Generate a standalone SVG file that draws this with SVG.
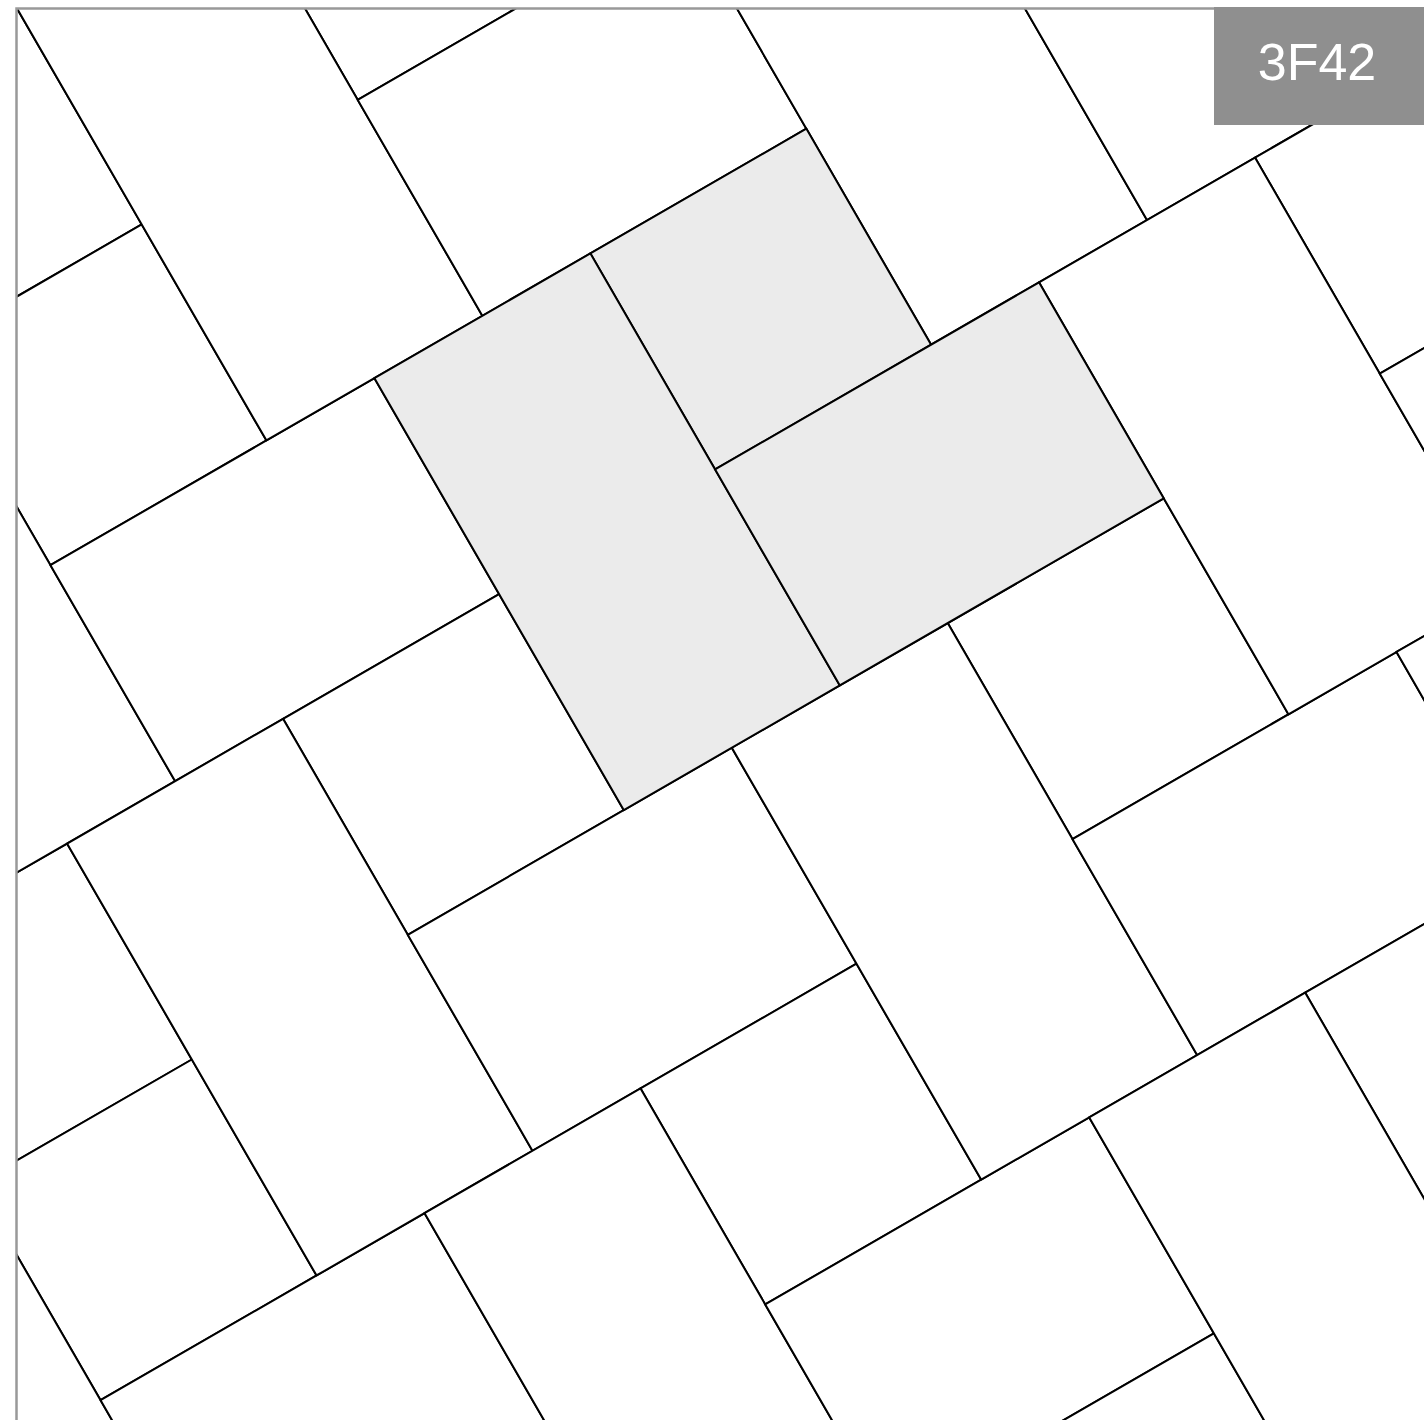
<svg xmlns="http://www.w3.org/2000/svg" width="1424" height="1420" viewBox="0 0 1424 1420">
  <defs>
    <style>
      .tile { fill: #ffffff; stroke: #000000; stroke-width: 2; }
      .hl { fill: #ebebeb; }
      .frame { fill: none; stroke: #999999; stroke-width: 2.5; }
      .labelbox { fill: #8f8f8f; }
      .labeltext { fill: #ffffff; font-family: "Liberation Sans", Arial, sans-serif; font-size: 52px; }
    </style>
    <clipPath id="canvasClip">
      <rect x="17" y="8.5" width="1407" height="1411.5"/>
    </clipPath>
  </defs>
  <rect width="1424" height="1420" fill="#ffffff"/>
  <g id="tiling" clip-path="url(#canvasClip)">
    <g transform="translate(17,8.5) rotate(-30)">
      <rect class="tile" x="-374.1" y="0" width="374.1" height="249.4"/>
      <rect class="tile" x="-748.2" y="748.2" width="374.1" height="249.4"/>
      <rect class="tile" x="-249.4" y="249.4" width="249.4" height="249.4"/>
      <rect class="tile" x="-498.8" y="249.4" width="249.4" height="498.8"/>
      <rect class="tile" x="-249.4" y="498.8" width="374.1" height="249.4"/>
      <rect class="tile" x="249.4" y="0" width="249.4" height="249.4"/>
      <rect class="tile" x="0" y="0" width="249.4" height="498.8"/>
      <rect class="tile" x="249.4" y="249.4" width="374.1" height="249.4"/>
      <rect class="tile" x="-623.5" y="997.6" width="249.4" height="249.4"/>
      <rect class="tile" x="-872.9" y="997.6" width="249.4" height="498.8"/>
      <rect class="tile" x="-623.5" y="1247" width="374.1" height="249.4"/>
      <rect class="tile" x="-124.7" y="748.2" width="249.4" height="249.4"/>
      <rect class="tile" x="-374.1" y="748.2" width="249.4" height="498.8"/>
      <rect class="tile" x="-124.7" y="997.6" width="374.1" height="249.4"/>
      <rect class="tile" x="623.5" y="249.4" width="249.4" height="498.8"/>
      <rect class="tile" x="872.9" y="498.8" width="374.1" height="249.4"/>
      <rect class="tile" x="0" y="1247" width="249.4" height="249.4"/>
      <rect class="tile" x="-249.4" y="1247" width="249.4" height="498.8"/>
      <rect class="tile" x="0" y="1496.4" width="374.1" height="249.4"/>
      <rect class="tile" x="498.8" y="997.6" width="249.4" height="249.4"/>
      <rect class="tile" x="249.4" y="997.6" width="249.4" height="498.8"/>
      <rect class="tile" x="498.8" y="1247" width="374.1" height="249.4"/>
      <rect class="tile" x="997.6" y="748.2" width="249.4" height="249.4"/>
      <rect class="tile" x="748.2" y="748.2" width="249.4" height="498.8"/>
      <rect class="tile" x="997.6" y="997.6" width="374.1" height="249.4"/>
      <rect class="tile" x="124.7" y="1745.8" width="249.4" height="249.4"/>
      <rect class="tile" x="623.5" y="1496.4" width="249.4" height="249.4"/>
      <rect class="tile" x="374.1" y="1496.4" width="249.4" height="498.8"/>
      <rect class="tile" x="872.9" y="1247" width="249.4" height="498.8"/>
      <rect id="hl-square" class="tile hl" x="374.1" y="498.8" width="249.4" height="249.4"/>
      <rect id="hl-vertical" class="tile hl" x="124.7" y="498.8" width="249.4" height="498.8"/>
      <rect id="hl-horizontal" class="tile hl" x="374.1" y="748.2" width="374.1" height="249.4"/>
    </g>
  </g>
  <rect class="frame" x="16.5" y="8.5" width="1420" height="1420"/>
  <g id="label">
    <rect class="labelbox" x="1214" y="7" width="210" height="118"/>
    <text class="labeltext" x="1317" y="80" text-anchor="middle">3F42</text>
  </g>
</svg>
